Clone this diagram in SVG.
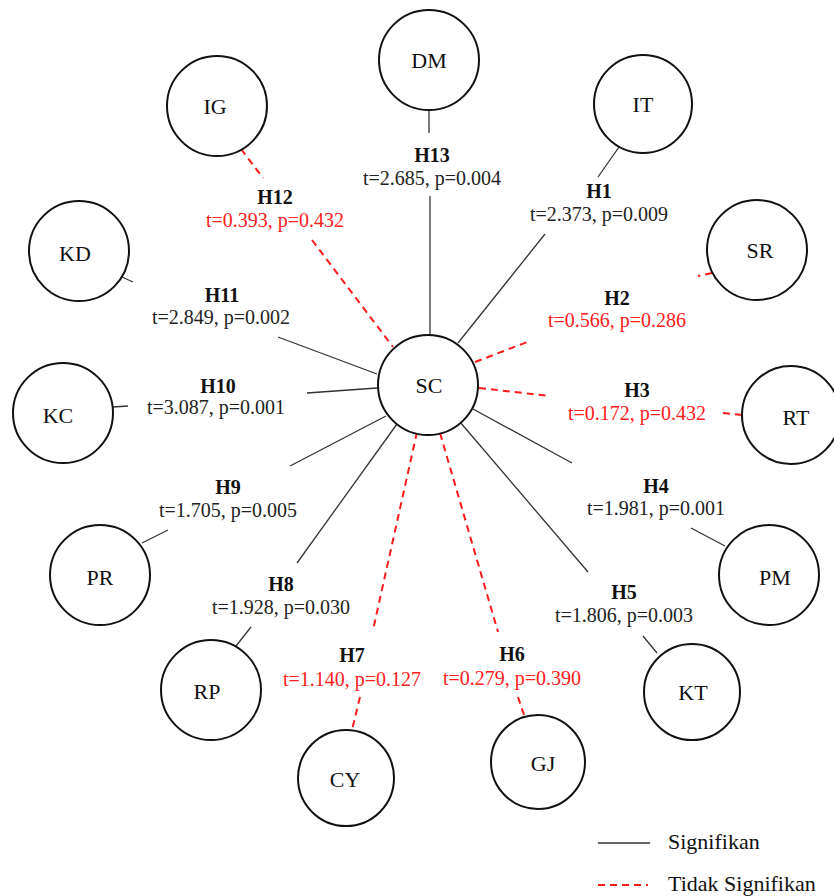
<svg xmlns="http://www.w3.org/2000/svg" width="834" height="896" viewBox="0 0 834 896">
<style>
.node{fill:#fff;stroke:#111;stroke-width:2}
.nt{font-family:"Liberation Serif","Times New Roman",serif;font-size:22px;fill:#111;text-anchor:middle}
.h{font-family:"Liberation Serif","Times New Roman",serif;font-size:20px;font-weight:bold;fill:#111;text-anchor:middle}
.v{font-family:"Liberation Serif","Times New Roman",serif;font-size:20px;fill:#222;text-anchor:middle}
.r{fill:#ff2020}
.s{stroke:#333;stroke-width:1.3;fill:none}
.d{stroke:#ff1a1a;stroke-width:2;stroke-dasharray:7 5;fill:none}
.lg{font-family:"Liberation Serif","Times New Roman",serif;font-size:22px;fill:#111}
</style>
<rect width="834" height="896" fill="#fff"/>
<g id="connectors">
<line class="s" x1="429" y1="110" x2="429" y2="133"/>
<line class="s" x1="430" y1="196" x2="430" y2="335"/>
<line class="d" x1="241" y1="149" x2="263" y2="178"/>
<line class="d" x1="312" y1="240" x2="393" y2="347"/>
<line class="s" x1="619" y1="147" x2="598" y2="177"/>
<line class="s" x1="545" y1="234" x2="458" y2="343"/>
<line class="d" x1="712" y1="273" x2="698" y2="276"/>
<line class="d" x1="475" y1="362" x2="530" y2="341"/>
<line class="d" x1="479" y1="388" x2="550" y2="396"/>
<line class="d" x1="723" y1="413" x2="743" y2="415"/>
<line class="s" x1="122" y1="277" x2="133" y2="282"/>
<line class="s" x1="278" y1="337" x2="377" y2="374"/>
<line class="s" x1="113" y1="407" x2="128" y2="406"/>
<line class="s" x1="307" y1="393" x2="377" y2="388"/>
<line class="s" x1="142" y1="543" x2="168" y2="530"/>
<line class="s" x1="290" y1="466" x2="386" y2="416"/>
<line class="s" x1="236" y1="646" x2="251" y2="627"/>
<line class="s" x1="297" y1="563" x2="397" y2="424"/>
<line class="d" x1="417" y1="432" x2="373" y2="630"/>
<line class="d" x1="360" y1="697" x2="352" y2="730"/>
<line class="d" x1="440" y1="433" x2="498" y2="632"/>
<line class="d" x1="518" y1="697" x2="525" y2="718"/>
<line class="s" x1="473" y1="409" x2="572" y2="463"/>
<line class="s" x1="691" y1="528" x2="725" y2="546"/>
<line class="s" x1="460" y1="422" x2="588" y2="572"/>
<line class="s" x1="643" y1="636" x2="657" y2="653"/>
</g>
<g id="labels">
<text class="h" x="432" y="162">H13</text><text class="v" x="432" y="185">t=2.685, p=0.004</text>
<text class="h" x="275" y="204">H12</text><text class="v r" x="275" y="227">t=0.393, p=0.432</text>
<text class="h" x="599" y="198">H1</text><text class="v" x="599" y="221">t=2.373, p=0.009</text>
<text class="h" x="617" y="305">H2</text><text class="v r" x="617" y="327">t=0.566, p=0.286</text>
<text class="h" x="222" y="302">H11</text><text class="v" x="221" y="324">t=2.849, p=0.002</text>
<text class="h" x="218" y="393">H10</text><text class="v" x="216" y="414">t=3.087, p=0.001</text>
<text class="h" x="637" y="397">H3</text><text class="v r" x="637" y="420">t=0.172, p=0.432</text>
<text class="h" x="656" y="493">H4</text><text class="v" x="656" y="515">t=1.981, p=0.001</text>
<text class="h" x="228" y="494">H9</text><text class="v" x="228" y="517">t=1.705, p=0.005</text>
<text class="h" x="281" y="591">H8</text><text class="v" x="281" y="614">t=1.928, p=0.030</text>
<text class="h" x="624" y="599">H5</text><text class="v" x="624" y="622">t=1.806, p=0.003</text>
<text class="h" x="352" y="662">H7</text><text class="v r" x="352" y="686">t=1.140, p=0.127</text>
<text class="h" x="512" y="661">H6</text><text class="v r" x="512" y="685">t=0.279, p=0.390</text>
</g>
<g id="DM"><circle class="node" cx="429" cy="60" r="50"/><text class="nt" x="429" y="68">DM</text></g>
<g id="IG"><circle class="node" cx="217" cy="106" r="50"/><text class="nt" x="215" y="114">IG</text></g>
<g id="IT"><circle class="node" cx="643" cy="104" r="49"/><text class="nt" x="643" y="112">IT</text></g>
<g id="SR"><circle class="node" cx="757" cy="250" r="50"/><text class="nt" x="760" y="258">SR</text></g>
<g id="KD"><circle class="node" cx="79" cy="251" r="50"/><text class="nt" x="75" y="261">KD</text></g>
<g id="KC"><circle class="node" cx="63" cy="413" r="50"/><text class="nt" x="58" y="423">KC</text></g>
<g id="SC"><circle class="node" cx="428" cy="385" r="50"/><text class="nt" x="429" y="393">SC</text></g>
<g id="RT"><circle class="node" cx="791" cy="415" r="49"/><text class="nt" x="796" y="425">RT</text></g>
<g id="PM"><circle class="node" cx="769" cy="575" r="50"/><text class="nt" x="775" y="585">PM</text></g>
<g id="PR"><circle class="node" cx="100" cy="575" r="50"/><text class="nt" x="100" y="585">PR</text></g>
<g id="KT"><circle class="node" cx="692" cy="692" r="48"/><text class="nt" x="693" y="700">KT</text></g>
<g id="RP"><circle class="node" cx="211" cy="690" r="50"/><text class="nt" x="207" y="699">RP</text></g>
<g id="CY"><circle class="node" cx="346" cy="778" r="48"/><text class="nt" x="345" y="787">CY</text></g>
<g id="GJ"><circle class="node" cx="538" cy="762" r="47"/><text class="nt" x="543" y="771">GJ</text></g>
<g id="legend">
<line class="s" x1="598" y1="843" x2="650" y2="843"/>
<text class="lg" x="668" y="849">Signifikan</text>
<line class="d" x1="598" y1="885" x2="648" y2="885"/>
<text class="lg" x="668" y="891">Tidak Signifikan</text>
</g>
</svg>
